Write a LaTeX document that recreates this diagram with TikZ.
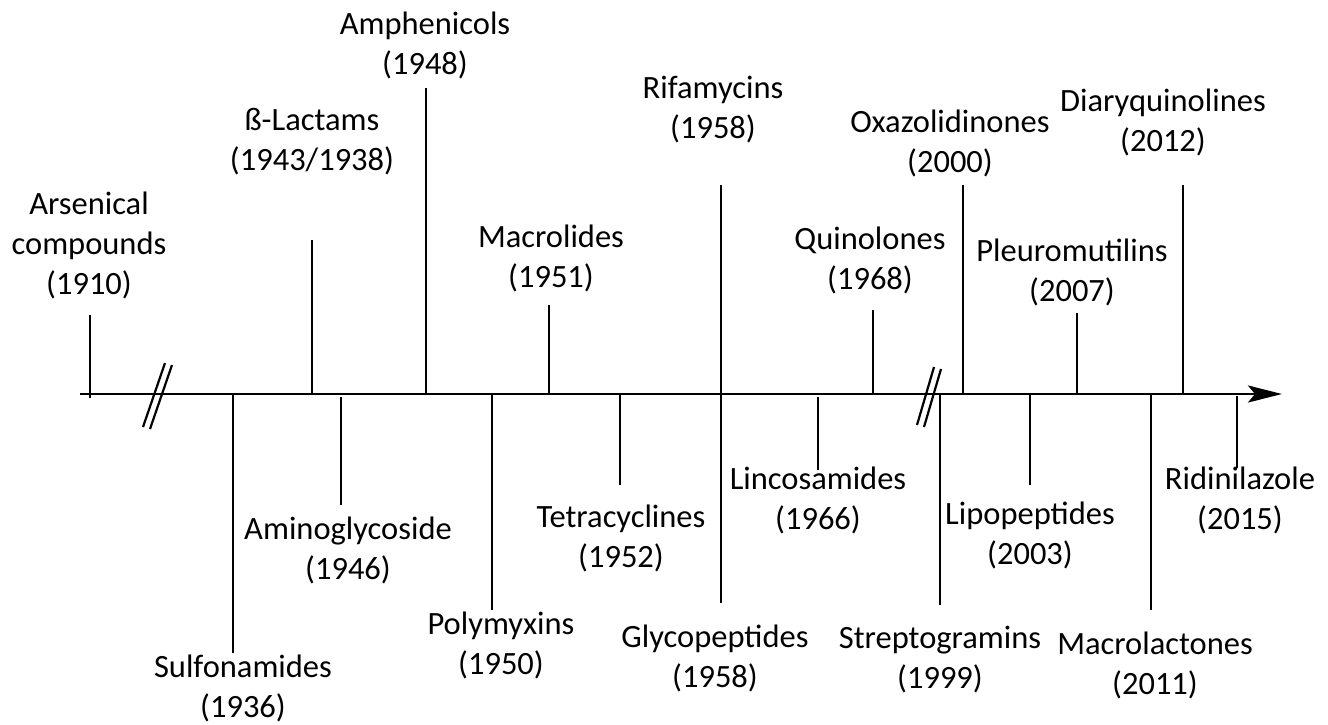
\documentclass[tikz,border=0pt]{standalone}
\usepackage{fontspec}
\setmainfont{Carlito}
\usetikzlibrary{arrows.meta}
\begin{document}
\begin{tikzpicture}[x=1pt,y=-1pt,
  lbl/.style={align=center,inner sep=0pt,font=\fontsize{32.5}{40}\selectfont},
  tick/.style={line width=2.9pt},
  brk/.style={line width=2.2pt},
  axis/.style={line width=2.9pt,-{Stealth[length=34pt,width=17pt,inset=7pt]}}]
\useasboundingbox (0,0) rectangle (1328,724);
% axis
\coordinate (a0) at (80,394);
\coordinate (a1) at (1282,394);
\draw[axis] (a0) -- (a1);
% break marks
\draw[brk] (143,427) -- (165,363);
\draw[brk] (150,429) -- (172,365);
\draw[brk] (917,425) -- (934,367);
\draw[brk] (924,427) -- (941,369);
% labels above
\node[lbl] (ars) at (89,245) {Arsenical\\compounds\\(1910)};
\node[lbl] (lac) at (312,142) {ß-Lactams\\(1943/1938)};
\node[lbl] (amp) at (425,45) {Amphenicols\\(1948)};
\node[lbl] (mac) at (551,258) {Macrolides\\(1951)};
\node[lbl] (rif) at (713,110) {Rifamycins\\(1958)};
\node[lbl] (qui) at (870,260) {Quinolones\\(1968)};
\node[lbl] (oxa) at (950,143) {Oxazolidinones\\(2000)};
\node[lbl] (ple) at (1072,272) {Pleuromutilins\\(2007)};
\node[lbl] (dia) at (1163,122) {Diaryquinolines\\(2012)};
% labels below
\node[lbl] (sul) at (243,688) {Sulfonamides\\(1936)};
\node[lbl] (ami) at (348,550) {Aminoglycoside\\(1946)};
\node[lbl] (pol) at (501,645) {Polymyxins\\(1950)};
\node[lbl] (tet) at (621,538) {Tetracyclines\\(1952)};
\node[lbl] (gly) at (715,658) {Glycopeptides\\(1958)};
\node[lbl] (lin) at (818,500) {Lincosamides\\(1966)};
\node[lbl] (str) at (940,660) {Streptogramins\\(1999)};
\node[lbl] (lip) at (1030,535) {Lipopeptides\\(2003)};
\node[lbl] (mcl) at (1155,665) {Macrolactones\\(2011)};
\node[lbl] (rid) at (1240,500) {Ridinilazole\\(2015)};
% ticks up
\draw[tick] (90,398) -- (90,315);
\draw[tick] (312,394) -- (312,240);
\draw[tick] (426,394) -- (426,88);
\draw[tick] (549,394) -- (549,305);
\draw[tick] (721,394) -- (721,185);
\draw[tick] (873,394) -- (873,310);
\draw[tick] (963,394) -- (963,185);
\draw[tick] (1077,394) -- (1077,313);
\draw[tick] (1183,394) -- (1183,185);
% ticks down
\draw[tick] (233,394) -- (233,653);
\draw[tick] (341,397) -- (341,505);
\draw[tick] (492,394) -- (492,610);
\draw[tick] (620,394) -- (620,485);
\draw[tick] (721,394) -- (721,603);
\draw[tick] (818,397) -- (818,470);
\draw[tick] (940,394) -- (940,605);
\draw[tick] (1030,394) -- (1030,485);
\draw[tick] (1151,394) -- (1151,610);
\draw[tick] (1237,396) -- (1237,468);
\end{tikzpicture}
\end{document}
